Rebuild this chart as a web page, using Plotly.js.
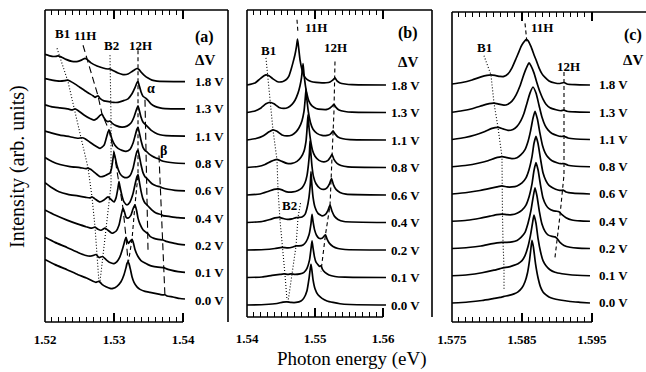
<!DOCTYPE html>
<html><head><meta charset="utf-8">
<script src="https://cdn.plot.ly/plotly-3.0.1.min.js"></script>
<style>html,body{margin:0;padding:0;background:#fff}#chart{width:646px;height:372px}</style>
</head><body><div id="chart"></div>
<script>
// ---- labels ----
const voltages = ['0.0 V','0.1 V','0.2 V','0.4 V','0.6 V','0.8 V','1.1 V','1.3 V','1.8 V'];
const ticksA = [1.52,1.53,1.54], tickTextA = ['1.52','1.53','1.54'];
const ticksB = [1.54,1.55,1.56], tickTextB = ['1.54','1.55','1.56'];
const ticksC = [1.575,1.585,1.595], tickTextC = ['1.575','1.585','1.595'];

// ---- panel (a) spectra: photon energy (eV) / intensity (arb. units) ----
const aE0=[1.52,1.52145,1.52319,1.52478,1.52609,1.52696,1.52739,1.52783,1.52826,1.52884,1.52942,1.52986,1.53043,1.53101,1.53145,1.53174,1.53188,1.53203,1.53217,1.53239,1.53261,1.5329,1.53333,1.53377,1.53449,1.53522,1.53594,1.53667,1.5371,1.53739,1.53768,1.53855,1.53957,1.54029];
const aI0=[40,35,30,25,21.5,18.5,17.5,18.5,15.5,13,11.5,11.5,13.5,18,25,32,36,38,36,30,23,17.5,13,10.5,8.5,7.5,6.5,5.5,5,5.2,4,3,1.5,1];
const aE1=[1.52,1.52145,1.52319,1.52478,1.52594,1.52667,1.52696,1.52739,1.52783,1.52833,1.52884,1.52942,1.53,1.53043,1.53087,1.5313,1.53159,1.53174,1.53188,1.5321,1.53232,1.53261,1.53283,1.53304,1.53348,1.53391,1.53449,1.53493,1.53551,1.53638,1.53725,1.53754,1.53826,1.53928,1.54029];
const aI1=[35,30,25,20,17,16.5,17,18,15,16,13,10,9,11,16,25,32,35,32,29,31,33,29,23,16,12,9.5,8,6.5,5.5,5,4,2.5,1,0.3];
const aE2=[1.52,1.52145,1.52319,1.52478,1.52594,1.52667,1.52725,1.52768,1.52812,1.5287,1.52913,1.52971,1.53029,1.53072,1.53101,1.5313,1.53152,1.53174,1.53203,1.53246,1.53275,1.53304,1.53326,1.53348,1.53377,1.5342,1.53464,1.53493,1.53522,1.5358,1.53638,1.5371,1.53754,1.53812,1.53913,1.54029];
const aI2=[35,30,25,21,18.5,17,18,16,15,17,15,12,14,20,29,37,33,28,27,30,36,40,35,27,21,15.5,13,11.5,9,7,6,5.3,4,3,1.5,0.5];
const aE3=[1.52,1.52101,1.52203,1.52333,1.52478,1.52594,1.52652,1.52681,1.52725,1.52797,1.52855,1.52913,1.52957,1.53,1.53029,1.53058,1.53072,1.53087,1.53116,1.53145,1.53188,1.53232,1.53275,1.53304,1.53333,1.53348,1.53362,1.53391,1.5342,1.53449,1.53478,1.53507,1.53551,1.53609,1.53681,1.5371,1.53812,1.53928,1.54029];
const aI3=[35,30,26,23.5,22,20.5,20,21,19,16,18,21,18.5,16,20,30,36,31,22,16,13,16,24,33,41,43,38,27,19,15,13,11,8,5,3.5,2.5,1.5,0.5,0];
const aE4=[1.52,1.52101,1.52217,1.52362,1.52507,1.52594,1.52623,1.52667,1.52739,1.52797,1.52855,1.52899,1.52942,1.52964,1.52986,1.53,1.53014,1.53043,1.53087,1.5313,1.53188,1.53232,1.53275,1.53304,1.53333,1.53348,1.53362,1.53391,1.5342,1.53449,1.53478,1.53507,1.53551,1.53609,1.53667,1.53696,1.53783,1.53884,1.54029];
const aI4=[33,29,26,24,23,22,22.5,21,17,14,14.5,16,17.5,22,32,38,34,25,17,14,13,15,22,31,39,40,36,26,18,14,12,10,7,5,4,3,1.5,0.5,0];
const aE5=[1.52,1.52101,1.52217,1.52362,1.52478,1.52536,1.5258,1.52652,1.52739,1.52797,1.52855,1.52884,1.52913,1.52928,1.52942,1.52971,1.53014,1.53058,1.53116,1.53174,1.53232,1.53275,1.53304,1.53333,1.53348,1.53362,1.53391,1.5342,1.53449,1.53478,1.53507,1.53551,1.53609,1.53652,1.53681,1.53768,1.53884,1.54029];
const aI5=[32,30,28,26.5,25,25.5,24.5,21,17,15,18,24,31,33,31,24,18,15,13,12,14,20,27,34,36,32,23,16,13,11.5,9.5,7.5,5.5,4.5,3,1.5,0.5,0];
const aE6=[1.52,1.52101,1.52217,1.52333,1.52391,1.52435,1.52478,1.52565,1.52652,1.5271,1.52754,1.52797,1.52826,1.52848,1.52884,1.52913,1.52942,1.52971,1.53029,1.53116,1.53188,1.53246,1.5329,1.53319,1.53348,1.53362,1.53391,1.5342,1.53464,1.53493,1.53536,1.53594,1.53667,1.53754,1.54029];
const aI6=[31,29,28,27,26,27,25.5,21,17.5,16,17.5,20.5,22,19,15.5,14.5,15,13,10.5,9,10,13,19,25,30,27,19,14,11,9,6,3.5,1.5,0.5,0];
const aE7=[1.52,1.52101,1.52217,1.5229,1.52333,1.52377,1.52449,1.52536,1.52623,1.52696,1.52725,1.52768,1.52797,1.52855,1.52942,1.52986,1.53058,1.5313,1.53203,1.53261,1.53304,1.53333,1.53348,1.53362,1.53391,1.5342,1.53464,1.53493,1.53536,1.53594,1.53667,1.53739,1.54029];
const aI7=[30,28.5,27.5,28,28.5,27,24,20,16,13,11.5,13,10.5,8,7,6.5,6.5,8,10,15,21,26,27,24,17,12.5,10.5,8.5,5,2.5,1,0.3,0];
const aE8=[1.52,1.52101,1.52159,1.52188,1.52232,1.52304,1.52391,1.52478,1.52536,1.5258,1.52609,1.52667,1.52754,1.52841,1.52913,1.52942,1.52986,1.53058,1.5313,1.53203,1.53261,1.53304,1.53333,1.53362,1.53391,1.53435,1.53493,1.53551,1.53623,1.54029];
const aI8=[27,25,25,25.5,24.5,22,20,20,21.5,23,22,18.5,15.5,13.5,12.5,12.5,11,8.5,7,7.5,10,12,13,12,9.5,6.5,3.5,1.5,0.5,0];

// ---- panel (b) spectra ----
const bE0=[1.54,1.54265,1.54441,1.54529,1.54588,1.54647,1.54721,1.54794,1.54838,1.54882,1.54912,1.54931,1.54941,1.54953,1.54971,1.55,1.55044,1.55103,1.55176,1.55265,1.55368,1.55515,1.56044];
const bI0=[0,0.5,1.5,2.8,3,2.5,2.5,4,7,14,26,36,40,35,25,16,10,6.5,4,2.5,1.2,0.5,0];
const bE1=[1.54,1.54221,1.54368,1.54485,1.54544,1.54603,1.54647,1.54706,1.54779,1.54838,1.54882,1.54919,1.54941,1.54956,1.54971,1.54993,1.55015,1.55044,1.55066,1.55088,1.5511,1.55147,1.55206,1.55294,1.55441,1.56044];
const bI1=[0,0.5,2,3,3.5,3,3.5,3,3.5,5,9,17,28,36,29,20,15,12.5,11,11.5,8,5,2.5,1,0.3,0];
const bE2=[1.54,1.54265,1.54412,1.54515,1.54603,1.54676,1.54721,1.54765,1.54824,1.54868,1.54912,1.54941,1.54956,1.54971,1.54993,1.55022,1.55059,1.55103,1.55132,1.55154,1.55176,1.55213,1.55265,1.55338,1.55441,1.56044];
const bI2=[0,0.5,1.5,2.5,2,3,4,4,5,8,15,26,35,28,20,14.5,11.5,11.5,13.5,15,11,6.5,3.5,1.5,0.5,0];
const bE3=[1.54,1.54221,1.54338,1.54412,1.54471,1.54529,1.54603,1.54662,1.54721,1.54765,1.54809,1.54853,1.54882,1.54912,1.54931,1.54941,1.54953,1.54971,1.55,1.55044,1.55103,1.55154,1.55191,1.55221,1.5525,1.55287,1.55338,1.55426,1.56044];
const bI3=[0,1,3,4.5,5,4,3,3.5,4.8,5,5.5,8,14,25,38,50,38,25,15,9,6.5,8,12,17,11,6,3,1,0];
const bE4=[1.54,1.54191,1.54309,1.54397,1.54456,1.54515,1.54588,1.54676,1.5475,1.54809,1.54853,1.54882,1.54904,1.54919,1.54926,1.54938,1.54956,1.54978,1.55015,1.55074,1.55132,1.55176,1.55213,1.55243,1.55272,1.55309,1.55368,1.55456,1.56044];
const bI4=[0,1,3.5,5.5,6,5,3,3,4.5,7,12,19,30,42,53,42,28,18,11,6.5,5.5,7,11,16,10,5.5,2.5,0.8,0];
const bE5=[1.54,1.54162,1.54265,1.54353,1.54441,1.54515,1.54588,1.54662,1.54735,1.54794,1.54838,1.54868,1.54882,1.54897,1.54912,1.54934,1.54963,1.55,1.55059,1.55132,1.55191,1.55221,1.5525,1.55279,1.55324,1.55382,1.55485,1.56044];
const bI5=[0,1,3,6,8,6,4,4,6,10,16,26,37,52,39,27,17,11,7,5.5,7,9.5,13,8,4,2,0.6,0];
const bE6=[1.54,1.54132,1.54235,1.54324,1.54382,1.54441,1.54515,1.54588,1.54662,1.54721,1.54765,1.54809,1.54838,1.54853,1.54868,1.54882,1.54904,1.54934,1.54971,1.55029,1.55103,1.55176,1.55221,1.55243,1.55265,1.55294,1.55338,1.55412,1.55515,1.56044];
const bI6=[0,1.5,4,8,10,8.5,5,4,5,8,12,19,28,38,50,39,27,17,10.5,6.5,4.5,4.5,5.5,7,9,6,3,1.2,0.4,0];
const bE7=[1.54,1.54118,1.54206,1.54279,1.54338,1.54397,1.54471,1.54544,1.54603,1.54662,1.54706,1.5475,1.54779,1.54801,1.54824,1.54838,1.5486,1.54882,1.54912,1.54956,1.55015,1.55103,1.55176,1.55221,1.55257,1.55279,1.55309,1.55353,1.55441,1.55544,1.56044];
const bI7=[0,1.5,4.5,8.5,10,8.5,5,4,5,8,12,19,26,34,48,38,26,18,11,6.5,4,3,3,4.5,6.5,8,5,2.5,1,0.3,0];
const bE8=[1.54,1.54118,1.54191,1.5425,1.54279,1.54324,1.54382,1.54441,1.545,1.54544,1.54588,1.54618,1.54647,1.54676,1.54706,1.54728,1.54743,1.54757,1.54779,1.54809,1.54838,1.54882,1.54941,1.55015,1.55103,1.55162,1.55221,1.55265,1.55294,1.55324,1.55368,1.55441,1.55544,1.56044];
const bI8=[0,2,6,9,10,9,6,3.5,3,4,6,9,15,22,30,38,45,38,25,15,9,5.5,3.5,2.5,2,2.2,3,5,7,4,2,1,0.3,0];

// ---- panel (c) spectra ----
const cE0=[1.575,1.57729,1.57929,1.581,1.58186,1.58243,1.58314,1.58386,1.58443,1.585,1.58543,1.58579,1.58607,1.58629,1.58643,1.58664,1.58693,1.58729,1.58764,1.588,1.58843,1.58886,1.58943,1.59043,1.59186,1.59329,1.59471];
const cI0=[0,1,2.5,4.5,5.5,6.5,7.5,9,11,15,21,30,42,55,62,55,39,25,16,11,8,6,4.5,3,1.5,0.7,0];
const cE1=[1.575,1.57729,1.57929,1.581,1.58186,1.58243,1.583,1.58371,1.58443,1.585,1.58543,1.58586,1.58621,1.5865,1.58671,1.587,1.58729,1.58764,1.588,1.58843,1.589,1.58971,1.59071,1.59186,1.59471];
const cI1=[0,1,3,5.5,7,8,8.5,10,12,15,20,29,40,52,60,52,37,24,15,10,6,3.5,2,1,0];
const cE2=[1.575,1.57729,1.57914,1.58057,1.58143,1.58214,1.58286,1.58357,1.58429,1.58486,1.58543,1.58586,1.58629,1.58657,1.58686,1.58714,1.5875,1.58786,1.58829,1.58871,1.58929,1.58971,1.59,1.59043,1.591,1.59186,1.593,1.59471];
const cI2=[0,1,2.5,4.5,5.5,6,6,6.5,8,11,16,25,38,50,60,52,36,24,17,13.5,12,11.5,10,6,3,1.2,0.3,0];
const cE3=[1.575,1.57714,1.579,1.58043,1.58143,1.58214,1.58286,1.58357,1.58429,1.585,1.58557,1.586,1.58643,1.58671,1.587,1.58729,1.58764,1.588,1.58843,1.58886,1.58943,1.58986,1.59029,1.59071,1.59129,1.59214,1.59329,1.59471];
const cI3=[0,1,3,5,6.5,7,6.5,6.5,8,11,16,24,37,50,58,51,36,23,16,12.5,10.5,10,9.5,6.5,3.5,1.2,0.3,0];
const cE4=[1.575,1.57714,1.579,1.58043,1.58143,1.58214,1.58286,1.58357,1.58429,1.585,1.58557,1.586,1.58643,1.58671,1.587,1.58729,1.58764,1.588,1.58843,1.58886,1.58943,1.59014,1.59057,1.59086,1.59129,1.59229,1.59471];
const cI4=[0,1.5,3.5,5.5,7,8,7,7,8,11,16,24,37,50,57,50,35,21,13,8.5,6,4,3.5,3.8,2,0.8,0];
const cE5=[1.575,1.57714,1.57871,1.58014,1.58114,1.58214,1.58286,1.58357,1.58429,1.58486,1.58543,1.58586,1.58621,1.58657,1.58686,1.58721,1.58757,1.58793,1.58829,1.58871,1.58929,1.59,1.59057,1.591,1.59157,1.59271,1.59471];
const cI5=[0,1.5,3.5,6,8.5,10,9,8,9,12,17,25,35,48,55,47,33,21,14,9.5,6,4,3,3.2,1.5,0.5,0];
const cE6=[1.575,1.57686,1.57829,1.57971,1.58071,1.58157,1.58229,1.583,1.58371,1.58429,1.58486,1.58529,1.58571,1.58614,1.58657,1.587,1.58743,1.58786,1.58829,1.58871,1.58929,1.59,1.59057,1.591,1.59157,1.59271,1.59471];
const cI6=[0,2,4.5,8,11,12,10.5,9,10,13,19,26,36,46,52,46,34,22,14,9.5,6,4,3,3.2,1.5,0.5,0];
const cE7=[1.575,1.57643,1.57786,1.57929,1.58029,1.581,1.58171,1.58243,1.583,1.58357,1.58414,1.58471,1.58514,1.58557,1.586,1.58629,1.58671,1.58714,1.58757,1.588,1.58843,1.589,1.58986,1.59057,1.591,1.59143,1.59257,1.59471];
const cI7=[0,1.5,3.5,6.5,8.5,9,8,7,8,11,17,26,35,43,49,46,39,29,20,13,8,4.5,2.5,1.5,2.2,1,0.3,0];
const cE8=[1.575,1.57643,1.57786,1.57914,1.58,1.58057,1.58114,1.58186,1.58243,1.583,1.58357,1.58414,1.58457,1.58486,1.58521,1.58557,1.58586,1.58629,1.58671,1.587,1.58743,1.58786,1.58829,1.58886,1.58971,1.59043,1.591,1.59143,1.59257,1.59471];
const cI8=[1,2.5,5,8,9.5,10,9.5,8.5,8.5,11,17,26,33,38,42,45,44,38,30,25,17,11,7.5,4,2,1.5,2.5,1,0.3,0];

// ---- guide lines through peak positions (energy, stacked intensity) ----
const gA_B1_E=[1.52174,1.52333,1.52435,1.52536,1.52623,1.52681,1.52725,1.52754,1.52783], gA_B1_Y=[249,216,186,158,131,102,72,44.5,17];
const gA_B2_E=[1.52942,1.52957,1.52957,1.52884,1.52797], gA_B2_Y=[242,178,114,69,18];
const gA_11H_E=[1.52551,1.52609,1.52768,1.52826,1.52928,1.53,1.53072,1.5313,1.53174,1.53203], gA_11H_Y=[252,239,202,184,168,146,117,91,62,38];
const gA_12H_E=[1.53348,1.53348,1.53304,1.53261,1.5321], gA_12H_Y=[247,124,94,60,38];
const gA_al_E=[1.53449,1.53478,1.53493], gA_al_Y=[198,99,49];
const gA_be_E=[1.53652,1.53681,1.5371,1.53739], gA_be_Y=[143,99,54,3];
const gB_B1_E=[1.54279,1.54338,1.54382,1.54441,1.54456,1.54485,1.54529,1.54559,1.54588], gB_B1_Y=[242.6,201.3,171.9,142.4,112.9,83.5,54,29.5,4.9];
const gB_B2_E=[1.54787,1.5475,1.54721,1.54662,1.54603], gB_B2_Y=[100,86,58,31,3];
const gB_11H_E=[1.54735,1.5475], gB_11H_Y=[280,267];
const gB_12H_E=[1.55294,1.55279,1.5525,1.55221,1.55154,1.55088], gB_12H_Y=[239,190,145,98,69,33];
const gC_B1_E=[1.57957,1.58057,1.581,1.58157,1.58214,1.58214,1.58221,1.58229,1.58243,1.58243], gC_B1_Y=[245,226,198,174,145,116,88,60,35,14];
const gC_11H_E=[1.58543,1.58571], gC_11H_Y=[277,258];
const gC_12H_E=[1.591,1.591,1.59043,1.58971], gC_12H_Y=[229,127,87,45];

// ---- build ----
const STEP = 27;
const FONT = '"Liberation Serif", "Times New Roman", serif';
const panels = [
  {E:[aE0,aE1,aE2,aE3,aE4,aE5,aE6,aE7,aE8], I:[aI0,aI1,aI2,aI3,aI4,aI5,aI6,aI7,aI8], xa:'x', ya:'y', labelX:1.54145},
  {E:[bE0,bE1,bE2,bE3,bE4,bE5,bE6,bE7,bE8], I:[bI0,bI1,bI2,bI3,bI4,bI5,bI6,bI7,bI8], xa:'x2', ya:'y2', labelX:1.56088},
  {E:[cE0,cE1,cE2,cE3,cE4,cE5,cE6,cE7,cE8], I:[cI0,cI1,cI2,cI3,cI4,cI5,cI6,cI7,cI8], xa:'x3', ya:'y3', labelX:1.59571}
];
const traces = [];
const annotations = [];
panels.forEach(p => {
  p.E.forEach((E, k) => {
    traces.push({x:E, y:p.I[k].map(v => v + k*STEP), xaxis:p.xa, yaxis:p.ya, type:'scatter', mode:'lines',
      line:{color:'#000', width:1.7, shape:'spline', smoothing:0.5}, hoverinfo:'skip'});
    annotations.push({xref:p.xa, yref:p.ya, x:p.labelX, y:k*STEP, text:voltages[k], showarrow:false,
      xanchor:'left', yanchor:'middle', font:{family:FONT, size:13, color:'#000', weight:'bold'}});
  });
});
const DOT = '1px,2px', DASH = '4px,3px', LDASH = '7px,4px';
function guide(E, Y, xa, ya, dash) {
  traces.push({x:E, y:Y, xaxis:xa, yaxis:ya, type:'scatter', mode:'lines', line:{color:'#000', width:1.1, dash:dash}, hoverinfo:'skip'});
}
guide(gA_B1_E, gA_B1_Y, 'x','y', DOT);
guide(gA_B2_E, gA_B2_Y, 'x','y', DOT);
guide(gA_11H_E, gA_11H_Y, 'x','y', LDASH);
guide(gA_12H_E, gA_12H_Y, 'x','y', DASH);
guide(gA_al_E, gA_al_Y, 'x','y', LDASH);
guide(gA_be_E, gA_be_Y, 'x','y', LDASH);
guide(gB_B1_E, gB_B1_Y, 'x2','y2', DOT);
guide(gB_B2_E, gB_B2_Y, 'x2','y2', DOT);
guide(gB_11H_E, gB_11H_Y, 'x2','y2', DASH);
guide(gB_12H_E, gB_12H_Y, 'x2','y2', DASH);
guide(gC_B1_E, gC_B1_Y, 'x3','y3', DOT);
guide(gC_11H_E, gC_11H_Y, 'x3','y3', DASH);
guide(gC_12H_E, gC_12H_Y, 'x3','y3', DASH);

function lbl(x, y, text, size) {
  annotations.push({xref:'paper', yref:'paper', x:x, y:y, text:text, showarrow:false, xanchor:'center', yanchor:'middle',
    font:{family:FONT, size:size, color:'#000', weight:'bold'}});
}
lbl(0.02829,0.92308,'B1',13); lbl(0.06656,0.91667,'11H',13); lbl(0.11148,0.88782,'B2',13); lbl(0.15807,0.88782,'12H',13);
lbl(0.26622,0.91346,'(a)',16); lbl(0.26622,0.83974,'ΔV',15); lbl(0.17637,0.75,'α',14); lbl(0.19634,0.55128,'β',14);
lbl(0.37105,0.87179,'B1',13); lbl(0.45092,0.94551,'11H',13); lbl(0.48253,0.88141,'12H',13); lbl(0.40765,0.375,'B2',13);
lbl(0.60399,0.92628,'(b)',16); lbl(0.60399,0.83333,'ΔV',15);
lbl(0.73211,0.88141,'B1',13); lbl(0.82696,0.94551,'11H',13); lbl(0.87188,0.81731,'12H',13);
lbl(0.97837,0.91987,'(c)',16); lbl(0.97837,0.83974,'ΔV',15);
annotations.push({xref:'paper', yref:'paper', x:0.5108, y:-0.1603, text:'Photon energy (eV)', showarrow:false,
  xanchor:'center', yanchor:'bottom', font:{family:FONT, size:19, color:'#000'}});
annotations.push({xref:'paper', yref:'paper', x:-0.04659, y:0.5, text:'Intensity (arb. units)', showarrow:false, textangle:-90,
  xanchor:'center', yanchor:'middle', font:{family:FONT, size:20, color:'#000'}});

function minors(start) { const v=[]; for (let i=1;i<20;i++) if (i%10) v.push(+(start+i*0.001).toFixed(3)); return v; }
function xax(domain, range, vals, texts, anchor, standoff) {
  return {domain:domain, range:range, anchor:anchor, tickmode:'array', tickvals:vals, ticktext:texts,
    ticks:'inside', ticklen:9, tickwidth:1.3, tickcolor:'#000', mirror:'ticks', showline:false, showgrid:false, zeroline:false,
    tickfont:{family:FONT, size:13, color:'#000', weight:'bold'}, ticklabelstandoff:standoff, fixedrange:true,
    minor:{tickmode:'array', tickvals:minors(vals[0]), ticks:'inside', ticklen:5, tickwidth:1, tickcolor:'#000', showgrid:false}};
}
function yax(domain, range, anchor) {
  return {domain:domain, range:range, anchor:anchor, showticklabels:false, ticks:'', showline:false, showgrid:false, zeroline:false, fixedrange:true};
}
const LW = 1.6;
function seg(x0,y0,x1,y1){ return {type:'line', xref:'paper', yref:'paper', x0:x0, y0:y0, x1:x1, y1:y1, line:{color:'#000', width:LW}}; }
const shapes = [
  seg(0,0,0,1), seg(0,1,0.30449,1), seg(0,0,0.22962,0), seg(0.30449,0,0.30449,1),
  seg(0.33611,0.01603,0.33611,1), seg(0.33611,1,0.64393,1), seg(0.33611,0.01603,0.5624,0.01603), seg(0.64393,0.01603,0.64393,1),
  seg(0.6772,0,0.6772,0.99359), seg(0.6772,0.99359,1,0.99359), seg(0.6772,0,0.91015,0)
];

const layout = {
  width:646, height:372, margin:{l:45, r:0, t:10, b:50}, showlegend:false,
  paper_bgcolor:'#fff', plot_bgcolor:'rgba(0,0,0,0)', font:{family:FONT, color:'#000'},
  xaxis: xax([0,0.30449],[1.52,1.546522],ticksA,tickTextA,'y',8),
  xaxis2: xax([0.33611,0.64393],[1.54,1.567206],ticksB,tickTextB,'y2',12),
  xaxis3: xax([0.6772,1],[1.575,1.602714],ticksC,tickTextC,'y3',8),
  yaxis: yax([0,1],[-21.76,286.84],'x'),
  yaxis2: yax([0.01603,1],[-11.78,289.64],'x2'),
  yaxis3: yax([0,0.99359],[-18.83,288.33],'x3'),
  shapes: shapes, annotations: annotations
};
Plotly.newPlot('chart', traces, layout, {staticPlot:true, displayModeBar:false});
</script></body></html>
